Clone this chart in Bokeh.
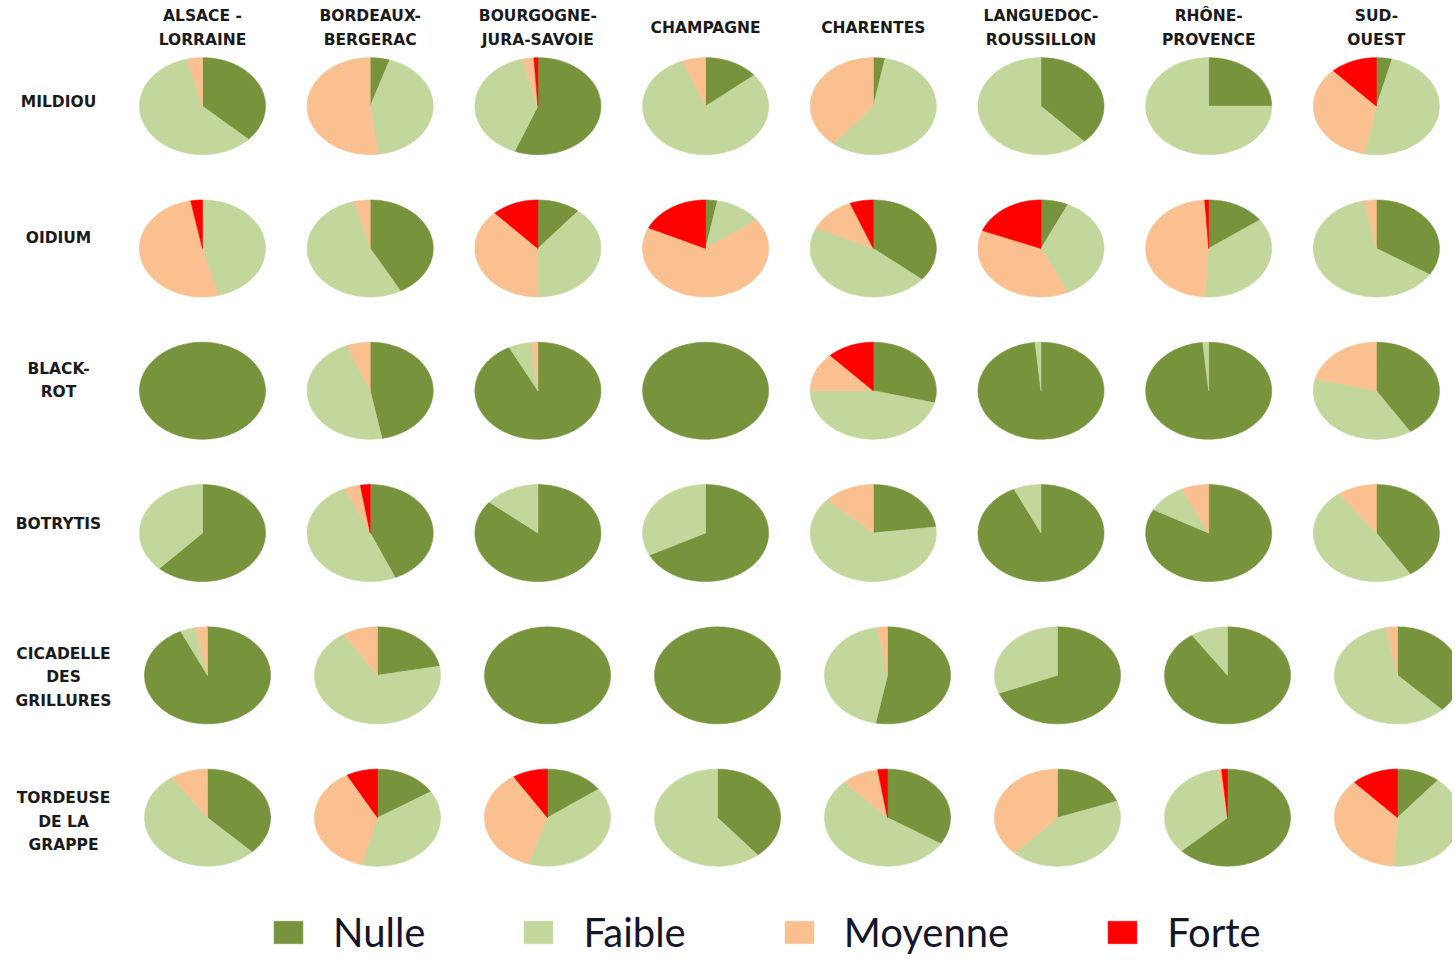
import math
from bokeh.plotting import figure
from bokeh.models import ColumnDataSource, Range1d, Legend, LegendItem
from bokeh.core.properties import value
from bokeh.embed import file_html
from bokeh.resources import INLINE

# ---------------- data ----------------
regions = ["ALSACE -\nLORRAINE", "BORDEAUX-\nBERGERAC", "BOURGOGNE-\nJURA-SAVOIE",
           "CHAMPAGNE", "CHARENTES", "LANGUEDOC-\nROUSSILLON", "RHÔNE-\nPROVENCE",
           "SUD-\nOUEST"]
diseases = ["MILDIOU", "OIDIUM", "BLACK-\nROT", "BOTRYTIS",
            "CICADELLE\nDES\nGRILLURES", "TORDEUSE\nDE LA\nGRAPPE"]
levels = ["Nulle", "Faible", "Moyenne", "Forte"]
level_colors = ["#77933C", "#C3D69B", "#FAC090", "#FF0000"]

# share of each level (%), one row per disease, one column per region
nulle = [
    [37, 5, 56, 14, 3, 38, 25, 4],
    [0, 42, 11, 3, 36, 7, 15, 34],
    [100, 47, 92.5, 100, 29, 98.5, 98.5, 41],
    [62, 43.5, 86, 67.5, 23, 93, 83, 41],
    [93, 22, 100, 100, 53, 69, 90.5, 37.5],
    [37.5, 16, 15, 39, 34, 19.5, 63, 11],
]
faible = [
    [59, 43, 40, 80, 58, 62, 75, 49],
    [46, 54, 39, 12, 46, 36, 36, 63],
    [0, 47, 6, 0, 46, 1.5, 1.5, 38],
    [38, 50, 14, 32.5, 64, 7, 10, 49],
    [4, 69, 0, 0, 44.5, 31, 9.5, 59.5],
    [53, 38, 40, 61, 54, 42.5, 34.5, 40],
]
moyenne = [
    [4, 52, 3, 6, 39, 0, 0, 35],
    [51, 4, 38, 67, 12, 38, 48, 3],
    [0, 6, 1.5, 0, 13, 0, 0, 21],
    [0, 4, 0, 0, 13, 0, 7, 10],
    [3, 9, 0, 0, 2.5, 0, 0, 3],
    [9.5, 38, 36, 0, 9.5, 38, 1, 37],
]
forte = [
    [0, 0, 1, 0, 0, 0, 0, 12],
    [3, 0, 12, 18, 6, 19, 1, 0],
    [0, 0, 0, 0, 12, 0, 0, 0],
    [0, 2.5, 0, 0, 0, 0, 0, 0],
    [0, 0, 0, 0, 0, 0, 0, 0],
    [0, 8, 9, 0, 2.5, 0, 1.5, 12],
]
series = [nulle, faible, moyenne, forte]

# ---------------- layout (pixels) ----------------
W, H = 1452, 962
COL0_PX, COL_STEP_PX = 202.0, 167.7     # first column centre, column step
ROW0_PX, ROW_STEP_PX = 105.65, 142.3    # first row centre, row step
RX_PX, RY_PX = 63.0, 48.5               # pie half-width / half-height
LOWER_STRETCH, LOWER_SHIFT = 1.0137, 0.03  # last two rows are slightly wider spread
LABEL_DY = [-4, -10, -10, -9, 2, 4]     # row label vertical nudges (px)

x_start = -COL0_PX / COL_STEP_PX
x_end = x_start + W / COL_STEP_PX
y_top = -ROW0_PX / ROW_STEP_PX
y_bottom = y_top + H / ROW_STEP_PX
rx = RX_PX / COL_STEP_PX
ry = RY_PX / ROW_STEP_PX


def col_pos(r, c):
    if r >= 4:
        return c * LOWER_STRETCH + LOWER_SHIFT
    return float(c)


p = figure(width=W, height=H, x_range=Range1d(x_start, x_end),
           y_range=Range1d(y_bottom, y_top), output_backend="svg",
           toolbar_location=None, min_border=0, outline_line_color=None,
           x_axis_type=None, y_axis_type=None, background_fill_color="white",
           border_fill_color="white")
p.grid.visible = False

renderers = []
for k, lvl in enumerate(levels):
    data = dict(xs=[], ys=[], disease=[], region=[], pct=[])
    for r in range(len(diseases)):
        for c in range(len(regions)):
            total = sum(series[j][r][c] for j in range(4))
            start = sum(series[j][r][c] for j in range(k)) / total
            frac = series[k][r][c] / total
            if frac <= 0:
                continue
            cx, cy = col_pos(r, c), float(r)
            t0, t1 = start * 2 * math.pi, (start + frac) * 2 * math.pi
            n = max(2, int(math.ceil((t1 - t0) / math.radians(1.0))) + 1)
            xs, ys = [], []
            if frac < 0.9999:
                xs.append(cx)
                ys.append(cy)
            for i in range(n):
                t = t0 + (t1 - t0) * i / (n - 1)
                xs.append(cx + rx * math.sin(t))
                ys.append(cy - ry * math.cos(t))
            data["xs"].append(xs)
            data["ys"].append(ys)
            data["disease"].append(diseases[r])
            data["region"].append(regions[c])
            data["pct"].append(series[k][r][c])
    rend = p.patches("xs", "ys", source=ColumnDataSource(data),
                     fill_color=level_colors[k], line_color=level_colors[k],
                     line_width=0.6)
    renderers.append(rend)

# column headers
p.text(x=[col_pos(0, c) for c in range(len(regions))], y=[0] * len(regions),
       text=regions, y_offset=-78, text_align="center", text_baseline="middle",
       text_font=value("DejaVu Sans"), text_font_style="bold",
       text_font_size="15.5px", text_color="#1a1a1a", text_line_height=1.3)

# row labels
label_src = ColumnDataSource(dict(
    x=[col_pos(r, 0) for r in range(len(diseases))],
    y=list(range(len(diseases))), text=diseases, dy=LABEL_DY))
p.text(x="x", y="y", text="text", source=label_src, x_offset=-144, y_offset="dy",
       text_align="center", text_baseline="middle",
       text_font=value("DejaVu Sans"), text_font_style="bold",
       text_font_size="15.5px", text_color="#1a1a1a", text_line_height=1.3)

legend = Legend(items=[LegendItem(label=lvl, renderers=[renderers[k]])
                       for k, lvl in enumerate(levels)],
                orientation="horizontal", location=(270, 6),
                glyph_width=36, glyph_height=28, label_standoff=27, spacing=95,
                label_text_font="Lato", label_text_font_size="40px",
                label_text_color="#15152a", border_line_color=None,
                background_fill_alpha=0, padding=0, margin=0)
p.add_layout(legend)

open("out.html", "w").write(file_html(p, INLINE))
